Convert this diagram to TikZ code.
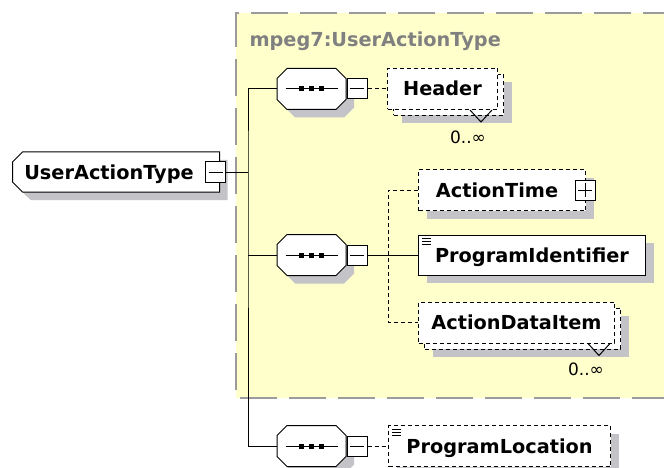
\documentclass[tikz,border=0pt]{standalone}
\usepackage{fontspec}
\setmainfont{DejaVu Sans}
\usetikzlibrary{shapes.misc,shadows}
\definecolor{panelfill}{RGB}{255,255,204}
\definecolor{panelline}{RGB}{155,155,155}
\definecolor{titlegray}{RGB}{128,128,128}
\definecolor{shadowgray}{RGB}{195,195,200}
\newcommand\elemfont{\fontsize{19.3}{22}\selectfont\bfseries}

\begin{document}
\begin{tikzpicture}[x=1pt, y=-1pt, line width=1pt,
    shade/.style={drop shadow={shadow xshift=8pt, shadow yshift=-8pt, fill=shadowgray, opacity=1}},
    element/.style={draw, fill=white, font=\elemfont, minimum height=41pt, text height=15pt, text depth=1pt, inner xsep=0pt, anchor=west},
    optional/.style={dash pattern=on 4pt off 3pt},
    compositor/.style={chamfered rectangle, chamfered rectangle xsep=5pt, chamfered rectangle ysep=5pt, draw, fill=white, inner xsep=29.5pt, inner ysep=15.5pt, shade},
    ctrlbox/.style={draw, fill=white, minimum width=20pt, minimum height=20pt, inner sep=0pt},
    minus/.style={ctrlbox, path picture={\draw ([xshift=3pt]path picture bounding box.west) -- ([xshift=-3pt]path picture bounding box.east);}},
    plus/.style={ctrlbox, path picture={\draw ([xshift=3pt]path picture bounding box.west) -- ([xshift=-3pt]path picture bounding box.east); \draw ([yshift=-3pt]path picture bounding box.north) -- ([yshift=3pt]path picture bounding box.south);}},
    mult/.style={font=\fontsize{17}{20}\selectfont, inner sep=0pt}]
  \useasboundingbox (0,0) rectangle (664,468);

  \fill[panelfill] (236,13) rectangle (680,398);
  \draw[panelline, line width=2.5pt, dash pattern=on 37pt off 12pt] (680,13) -- (236,13) -- (236,398) -- (680,398);
  \node[anchor=base west, inner sep=0pt, text=titlegray, font=\elemfont] (paneltitle) at (249,47) {mpeg7:UserActionType};

  \node[element, chamfered rectangle, chamfered rectangle xsep=5pt, chamfered rectangle ysep=5pt, chamfered rectangle corners={north west,south west}, minimum width=207pt, minimum height=40pt, shade] (uat) at (12,172) {UserActionType\hspace*{14pt}};
  \node[minus] (uatctl) at (215.5,172) {};

  \node[compositor] (seq1) at (311.5,89) {};
  \node[minus] (seq1ctl) at (357,89) {};
  \node[compositor] (seq2) at (311.5,255) {};
  \node[minus] (seq2ctl) at (357,255) {};
  \node[compositor] (seq3) at (311.5,446) {};
  \node[minus] (seq3ctl) at (357,446) {};

  \node[element, optional, shade, minimum width=110pt] (headerback) at (393,95) {};
  \node[element, optional, minimum width=110pt] (header) at (387,89) {Header};
  \node[element, optional, shade, minimum width=167pt] (atime) at (418,190) {ActionTime\hspace*{10pt}};
  \node[plus] (atimectl) at (585,190) {};
  \node[element, shade, minimum width=227pt, minimum height=40pt] (pid) at (418,255) {ProgramIdentifier};
  \node[element, optional, shade, minimum width=196pt] (adiback) at (424,328.5) {};
  \node[element, optional, minimum width=196pt] (adi) at (418,322.5) {ActionDataItem};
  \node[element, optional, shade, minimum width=222pt] (ploc) at (388,446) {ProgramLocation};

  \node[mult] (headermult) at ([shift={(-30,27)}]header.south east) {0..∞};
  \node[mult] (adimult) at ([shift={(-29,26)}]adi.south east) {0..∞};
  \draw ([xshift=-28pt]header.south east) -- ++(11,12) -- ++(11,-12);
  \draw ([xshift=-27pt]adi.south east) -- ++(11,12) -- ++(11,-12);

  \foreach \dy in {4,7,10} {
    \draw ([shift={(4,\dy)}]pid.north west) -- ++(9,0);
    \draw ([shift={(4,\dy)}]ploc.north west) -- ++(9,0);
  }
  \foreach \s in {seq1,seq2,seq3} {
    \draw (\s.center) +(-26,0) -- +(26,0);
    \foreach \d in {-10,0,10}
      \fill (\s.center) +(\d-2.5,-2.5) rectangle +(\d+2.5,2.5);
  }

  \coordinate (trunk) at (248,172);
  \coordinate (branch) at (388,255);
  \draw (uatctl.east) -- (trunk);
  \draw (seq1.west) -| (trunk) |- (seq3.west);
  \draw (trunk |- seq2.west) -- (seq2.west);
  \draw[optional] (seq1ctl.east) -- (header.west);
  \draw (seq2ctl.east) -- (pid.west);
  \draw[optional] (atime.west) -| (branch) |- (adi.west);
  \draw[optional] (seq3ctl.east) -- (ploc.west);
\end{tikzpicture}
\end{document}
